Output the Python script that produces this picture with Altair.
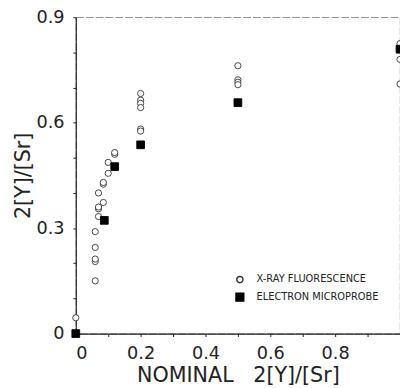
import altair as alt
import pandas as pd

# X-ray fluorescence (open circles)
xrf_x = [0.0, 0.06, 0.06, 0.06, 0.06, 0.06, 0.07, 0.07, 0.07, 0.07,
         0.085, 0.085, 0.085, 0.1, 0.1, 0.12, 0.12,
         0.2, 0.2, 0.2, 0.2, 0.2, 0.2,
         0.5, 0.5, 0.5, 0.5,
         1.0, 1.0, 1.0]
xrf_y = [0.045, 0.15, 0.205, 0.212, 0.245, 0.29, 0.333, 0.355, 0.36, 0.40,
         0.373, 0.425, 0.43, 0.456, 0.487, 0.51, 0.515,
         0.683, 0.664, 0.655, 0.643, 0.582, 0.576,
         0.762, 0.722, 0.715, 0.708,
         0.825, 0.78, 0.71]

# Electron microprobe (filled squares)
em_x = [0.0, 0.088, 0.12, 0.2, 0.5, 1.0]
em_y = [0.0, 0.322, 0.475, 0.537, 0.657, 0.809]

series_names = ["X-RAY FLUORESCENCE", "ELECTRON MICROPROBE"]

x_ticks = [0, 0.1, 0.2, 0.3, 0.4, 0.5, 0.6, 0.7, 0.8, 0.9, 1.0]
y_ticks = [0, 0.1, 0.2, 0.3, 0.4, 0.5, 0.6, 0.7, 0.8, 0.9]

x_title = "NOMINAL\u00a0\u00a0\u00a02[Y]/[Sr]"
y_title = "2[Y]/[Sr]"

df = pd.concat([
    pd.DataFrame({"x": xrf_x, "y": xrf_y, "series": series_names[0]}),
    pd.DataFrame({"x": em_x, "y": em_y, "series": series_names[1]}),
])

FONT = "DejaVu Sans"
INK = "#222222"

base = alt.Chart(df).mark_point(opacity=1, strokeWidth=0.9).encode(
    x=alt.X("x:Q", scale=alt.Scale(domain=[0, 1], nice=False, zero=False),
            axis=alt.Axis(values=x_ticks, title=x_title,
                          labelExpr="(datum.value < 0.95 && round(datum.value*10) % 2 == 0) ? (datum.value == 0 ? '0' : format(datum.value, '.1f')) : ''",
                          grid=False)),
    y=alt.Y("y:Q", scale=alt.Scale(domain=[0, 0.9], nice=False, zero=False),
            axis=alt.Axis(values=y_ticks, title=y_title,
                          labelExpr="(round(datum.value*10) % 3 == 0) ? (datum.value == 0 ? '0' : format(datum.value, '.1f')) : ''",
                          grid=False)),
    shape=alt.Shape("series:N", sort=series_names,
                    scale=alt.Scale(domain=series_names, range=["circle", "square"]),
                    legend=alt.Legend(title=None, orient="none", legendX=162, legendY=262,
                                      labelFont=FONT, labelFontSize=10, labelColor=INK,
                                      rowPadding=4, labelOffset=12, padding=0)),
    fill=alt.Fill("series:N", sort=series_names,
                  scale=alt.Scale(domain=series_names, range=["white", "black"])),
    stroke=alt.Stroke("series:N", sort=series_names,
                      scale=alt.Scale(domain=series_names, range=["#333333", "black"])),
    size=alt.Size("series:N", sort=series_names,
                  scale=alt.Scale(domain=series_names, range=[40, 62])),
).properties(
    width=330, height=322,
    autosize=alt.AutoSizeParams(type="none"),
    padding={"left": 69, "top": 6, "right": 0, "bottom": 51},
)

chart = base.configure_view(
    stroke="#777777", strokeWidth=0.8, strokeDash=[8, 2]
).configure_axis(
    domainColor=INK, domainWidth=1.2, tickColor=INK, tickSize=3,
    labelFont=FONT, labelFontSize=18, labelColor=INK,
    titleFont=FONT, titleFontSize=21, titleFontWeight="normal", titleColor=INK,
).configure_axisX(
    titlePadding=3, labelPadding=8
).configure_axisY(
    titlePadding=2, labelPadding=9
)

chart.save("out.html", embed_options={"renderer": "svg", "actions": False})
